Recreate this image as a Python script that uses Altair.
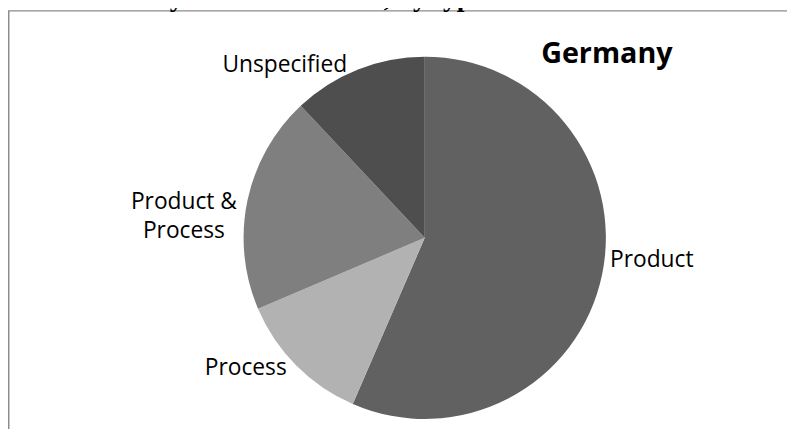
import altair as alt
import pandas as pd

categories = ["Product", "Process", "Product & Process", "Unspecified"]
shares = [56.5, 12.1, 19.4, 12.0]
labels = ["Product", "Process", "Product &\nProcess", "Unspecified"]
colors = ["#616161", "#b2b2b2", "#7f7f7f", "#4e4e4e"]

df = pd.DataFrame({
    "category": categories,
    "share": shares,
    "label": labels,
    "order": list(range(len(categories))),
})

CX, CY = 421, 230
R = 183
LR = 221
theta_scale = alt.Scale(domain=[0, 100], range=[0, 6.283185307179586])

base = alt.Chart(df).transform_window(
    cum="sum(share)", sort=[alt.SortField("order")], frame=[None, 0]
).transform_calculate(
    start="datum.cum - datum.share",
    mid="datum.cum - datum.share / 2",
)

arcs = base.mark_arc(radius=R).encode(
    theta=alt.Theta("start:Q", scale=theta_scale),
    theta2="cum:Q",
    color=alt.Color("category:N", scale=alt.Scale(domain=categories, range=colors), legend=None),
    x=alt.value(CX),
    y=alt.value(CY),
)

offsets = {
    "Product": (13, -15),
    "Process": (-24, -17),
    "Product & Process": (-27, 16),
    "Unspecified": (-60, 38),
}

text_layers = []
for c in categories:
    dx, dy = offsets[c]
    t = base.transform_filter(alt.datum.category == c).mark_text(
        font="Open Sans", fontSize=23, color="#000000", align="center",
        baseline="alphabetic", dx=dx, dy=dy, lineBreak="\n", lineHeight=30,
    ).encode(
        theta=alt.Theta("mid:Q", scale=theta_scale),
        radius=alt.value(LR),
        text="label:N",
        x=alt.value(CX),
        y=alt.value(CY),
    )
    text_layers.append(t)

blank = alt.Data(values=[{"k": 1}])

border = alt.Chart(blank).mark_rect(
    fillOpacity=0, stroke="#8c8c8c", strokeWidth=1.5
).encode(
    x=alt.value(0.75), x2=alt.value(800), y=alt.value(0.75), y2=alt.value(440)
)

germany = alt.Chart(blank).mark_text(
    text="Germany", font="Open Sans", fontSize=29, fontWeight="bold",
    color="#000000", align="center", baseline="alphabetic",
).encode(x=alt.value(605), y=alt.value(53))

title = alt.Chart(blank).mark_text(
    text="Patents held by German holders, by type", font="Liberation Serif",
    fontSize=28, fontWeight="bold", color="#000000", align="left",
    baseline="alphabetic",
).encode(x=alt.value(-6), y=alt.value(-4))

chart = alt.layer(border, arcs, *text_layers, germany, title).properties(
    width=787, height=421, autosize=alt.AutoSizeParams(type="none"), padding=0,
    background="#ffffff",
).configure_view(strokeWidth=0)

chart.save("out.html", embed_options={"renderer": "svg", "actions": False})
